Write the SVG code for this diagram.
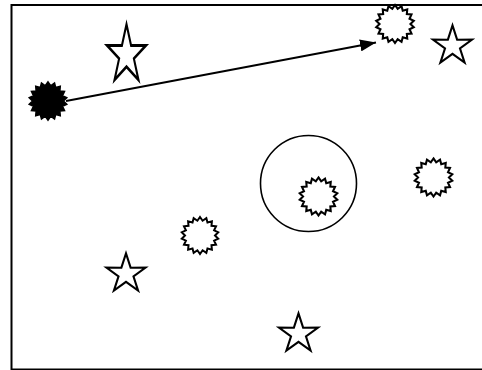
<svg xmlns="http://www.w3.org/2000/svg" xmlns:xlink="http://www.w3.org/1999/xlink" width="482" height="370" viewBox="0 0 482 370">
<style>
.frame{fill:none;stroke:#000;stroke-width:2}
.burst{fill:#fff;stroke:#000;stroke-width:2;stroke-linejoin:miter;vector-effect:non-scaling-stroke}
.burst-fill{fill:#000;stroke:#000;stroke-width:1.5;vector-effect:non-scaling-stroke}
.star{fill:#fff;stroke:#000;stroke-width:2;vector-effect:non-scaling-stroke}
.ring{fill:none;stroke:#000;stroke-width:1.6}
.edge{fill:none;stroke:#000;stroke-width:2}
</style>
<defs>
<path id="burstShape" d="M0,-18.5 L2.6,-14.77 L6.33,-17.38 L7.5,-12.99 L11.89,-14.17 L11.49,-9.64 L16.02,-9.25 L14.1,-5.13 L18.22,-3.21 L15,0 L18.22,3.21 L14.1,5.13 L16.02,9.25 L11.49,9.64 L11.89,14.17 L7.5,12.99 L6.33,17.38 L2.6,14.77 L0,18.5 L-2.6,14.77 L-6.33,17.38 L-7.5,12.99 L-11.89,14.17 L-11.49,9.64 L-16.02,9.25 L-14.1,5.13 L-18.22,3.21 L-15,0 L-18.22,-3.21 L-14.1,-5.13 L-16.02,-9.25 L-11.49,-9.64 L-11.89,-14.17 L-7.5,-12.99 L-6.33,-17.38 L-2.6,-14.77 Z"/>
<path id="starShape" d="M0,-20 L4.48,-6.16 L19.02,-6.18 L7.25,2.35 L11.75,16.18 L0,7.62 L-11.75,16.18 L-7.25,2.35 L-19.02,-6.18 L-4.48,-6.16 Z"/>
<marker id="arrow" markerWidth="16" markerHeight="12" refX="16" refY="6" orient="auto" markerUnits="userSpaceOnUse">
<path d="M0,0 L16,6 L0,12 Z" fill="#000"/>
</marker>
</defs>
<rect class="frame" x="11.5" y="5" width="480" height="364.5"/>
<g id="connectors">
<line class="edge" x1="66" y1="101" x2="376" y2="42.5" marker-end="url(#arrow)"/>
</g>
<g id="source">
<use xlink:href="#burstShape" class="burst-fill" transform="translate(48,101) scale(1.03)"/>
</g>
<g id="target">
<use xlink:href="#burstShape" class="burst" transform="translate(395,24) scale(1.03)"/>
</g>
<g id="star1">
<use xlink:href="#starShape" class="star" transform="translate(126.5,55) scale(1.02,1.54)"/>
</g>
<g id="star2">
<use xlink:href="#starShape" class="star" transform="translate(452.5,46) scale(1.03)"/>
</g>
<g id="ring">
<circle class="ring" cx="308.5" cy="183.5" r="48"/>
</g>
<g id="burstInRing">
<use xlink:href="#burstShape" class="burst" transform="translate(318.5,196.5) scale(1.03)"/>
</g>
<g id="burstRight">
<use xlink:href="#burstShape" class="burst" transform="translate(433.5,177.5) scale(1.03)"/>
</g>
<g id="burstMid">
<use xlink:href="#burstShape" class="burst" transform="translate(200,235.5) scale(1.0)"/>
</g>
<g id="star3">
<use xlink:href="#starShape" class="star" transform="translate(126,274) scale(1.03)"/>
</g>
<g id="star4">
<use xlink:href="#starShape" class="star" transform="translate(298.5,334) scale(1.03)"/>
</g>
</svg>
